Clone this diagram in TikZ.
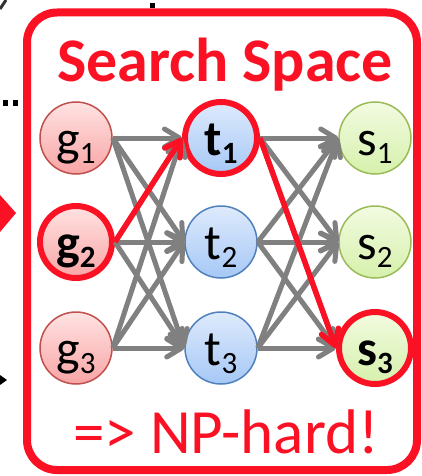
\documentclass[tikz,border=0pt]{standalone}
\usepackage{fontspec}
\setmainfont{Carlito}
\usetikzlibrary{arrows.meta}
\definecolor{myred}{RGB}{250,17,36}
\definecolor{arrgray}{RGB}{128,128,128}
\definecolor{gtop}{RGB}{255,226,226}
\definecolor{gbot}{RGB}{249,165,165}
\definecolor{gborder}{RGB}{192,80,77}
\definecolor{ttop}{RGB}{222,234,252}
\definecolor{tbot}{RGB}{166,200,246}
\definecolor{tborder}{RGB}{79,129,189}
\definecolor{stop}{RGB}{242,251,224}
\definecolor{sbot}{RGB}{214,240,172}
\definecolor{sborder}{RGB}{155,187,89}
\newcommand\subn[1]{\raisebox{-8pt}{\fontsize{31}{31}\selectfont #1}}
\begin{document}
\begin{tikzpicture}[x=1pt,y=1pt,
  circ/.style={circle, minimum size=72pt, inner sep=0pt, text height=41pt, text depth=6pt,
    font=\fontsize{50}{50}\selectfont, line width=1.5pt},
  gnode/.style={circ, draw=gborder, top color=gtop, bottom color=gbot},
  tnode/.style={circ, draw=tborder, top color=ttop, bottom color=tbot},
  snode/.style={circ, draw=sborder, top color=stop, bottom color=sbot},
  hl/.style={draw=myred, line width=6pt},
  garrow/.style={draw=arrgray, line width=5pt, -{Straight Barb[length=15pt,width=18pt,line cap=round,line join=round]}},
  rarrow/.style={draw=myred, line width=5.5pt, -{Straight Barb[length=15pt,width=18pt,line cap=round,line join=round]}},
]
\useasboundingbox (0,0) rectangle (422,-476);
% fragments of the surrounding slide
\draw[black!80, line width=3pt] (0,-9) -- (6,0);
\fill[black] (150,-3) rectangle (155,-8);
\fill[black] (3,-100) rectangle (8,-106);
\fill[black] (13,-100) rectangle (18,-106);
\fill[myred] (0,-195) -- (16,-213) -- (0,-232) -- cycle;
\fill[black] (0,-375) -- (7,-380) -- (0,-385) -- cycle;
% frame
\draw[myred, line width=8pt, rounded corners=30pt] (27,-12.5) rectangle (417,-470);
\node[font=\fontsize{62}{62}\selectfont\bfseries, text=myred, anchor=base] (title) at (225,-82) {Search Space};
\node[font=\fontsize{63}{63}\selectfont, text=myred, anchor=base] (np) at (226,-453) {=> NP-hard!};
% nodes
\node[gnode] (g1) at (76,-138) {g\subn{1}};
\node[gnode,hl] (g2) at (76,-242) {\bfseries g\subn{2}};
\node[gnode] (g3) at (76,-348) {g\subn{3}};
\node[tnode,hl] (t1) at (221,-138) {\bfseries t\subn{1}};
\node[tnode] (t2) at (221,-242) {t\subn{2}};
\node[tnode] (t3) at (221,-348) {t\subn{3}};
\node[snode] (s1) at (375,-138) {s\subn{1}};
\node[snode] (s2) at (375,-242) {s\subn{2}};
\node[snode,hl] (s3) at (375,-348) {\bfseries s\subn{3}};
% connectors
\foreach \i in {1,2,3}{
  \foreach \j in {1,2,3}{
    \draw[garrow] (g\i.east) -- (t\j.west);
    \draw[garrow] (t\i.east) -- (s\j.west);
  }
}
\draw[rarrow] (g2.east) -- (t1.west);
\draw[rarrow] (t1.east) -- (s3.west);
\end{tikzpicture}
\end{document}
